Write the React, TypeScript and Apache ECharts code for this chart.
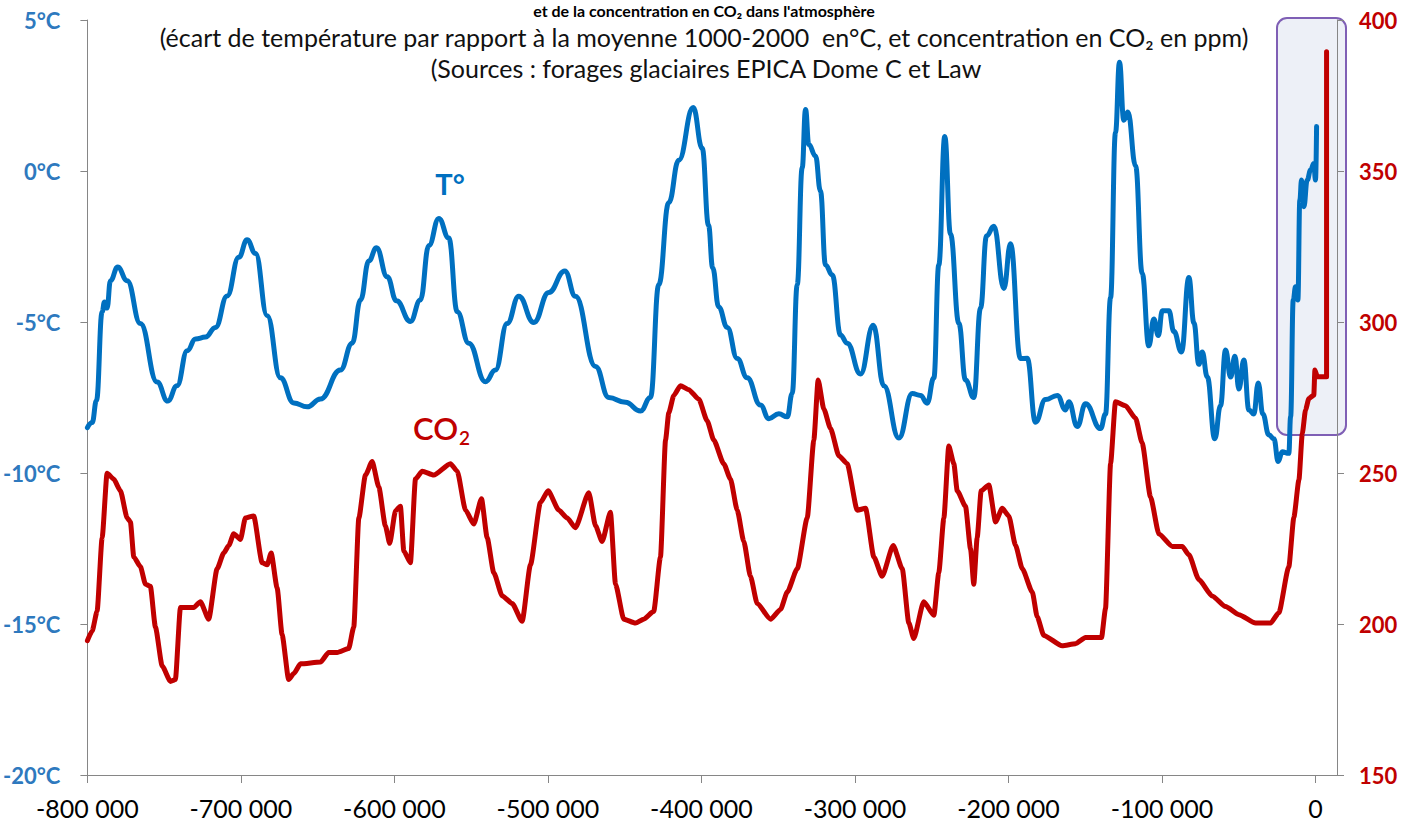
import React, { useEffect, useRef } from "react";
import * as echarts from "echarts";

// ---- Data ----
const tempYears = [
  -800000, -796900, -794100, -790400, -788900, -787200, -785000, -780300, -774100, -765500,
  -754600, -747700, -741600, -735000, -729600, -723100, -716600, -709000, -701400, -696000,
  -690500, -682900, -674300, -665600, -656900, -648200, -635200, -627500, -622100, -616700,
  -611700, -604700, -598700, -589600, -583100, -577600, -571100, -564600, -559100, -551600,
  -540700, -534200, -526600, -519000, -509200, -499500, -489000, -482100, -469000, -460400,
  -449500, -439700, -433200, -427800, -421300, -414800, -405400, -399500, -395400, -392700,
  -388800, -383200, -376700, -370200, -361600, -356100, -349600, -344100, -340900, -337600,
  -334400, -332200, -330100, -325700, -322500, -319200, -314800, -309400, -305100, -296400,
  -288100, -281200, -271400, -262700, -257300, -253000, -248600, -245400, -241500, -237800,
  -232300, -228000, -222600, -218200, -214300, -209500, -203000, -198700, -192200, -187800,
  -182400, -175900, -168200, -162800, -160700, -155200, -149800, -140000, -136800, -133500,
  -130300, -127700, -124900, -122200, -117200, -112900, -108600, -105300, -102400, -99800,
  -95500, -92300, -87300, -82500, -79200, -76000, -73800, -70500, -65600, -61900,
  -58600, -55300, -52500, -49900, -46700, -43400, -40200, -37300, -34300, -30400,
  -27100, -24300, -21700, -17400, -16200, -14500, -13000, -11500, -10200, -9100,
  -7600, -5400, -3200, -1100, 0, 700,
];
const tempValues = [
  -8.5, -8.33, -7.6, -4.66, -4.34, -4.54, -3.63, -3.18, -3.63, -5.05,
  -6.99, -7.62, -7.11, -5.95, -5.56, -5.5, -5.18, -4.14, -2.86, -2.28,
  -2.73, -4.79, -6.85, -7.68, -7.81, -7.55, -6.59, -5.7, -4.27, -2.98,
  -2.54, -3.5, -4.3, -4.98, -4.27, -2.47, -1.57, -2.22, -4.66, -5.7,
  -6.98, -6.59, -5.05, -4.15, -5.02, -4.02, -3.31, -4.15, -6.47, -7.5,
  -7.66, -7.95, -7.5, -3.76, -1.05, 0.36, 2.1, 0.75, -1.8, -3.2,
  -4.5, -5.18, -6.21, -6.85, -7.75, -8.2, -8.04, -8.14, -7.37, -3.76,
  0.1, 2.04, 0.88, 0.5, -0.66, -3.11, -3.44, -5.43, -5.7, -6.72,
  -5.11, -7.11, -8.84, -7.37, -7.43, -7.69, -6.85, -3.11, 1.14, -2.09,
  -5.05, -6.92, -7.5, -4.54, -2.15, -1.83, -3.89, -2.41, -6.21, -6.2,
  -8.32, -7.57, -7.43, -7.91, -7.64, -8.46, -7.71, -8.53, -8.05, -4.2,
  1.27, 3.6, 1.68, 1.95, 0.17, -3.39, -5.79, -4.9, -5.45, -4.63,
  -4.63, -5.31, -5.99, -3.53, -5.03, -6.4, -5.99, -6.82, -8.87, -7.77,
  -5.93, -6.82, -6.13, -7.22, -6.26, -7.91, -8.05, -7.02, -8.05, -8.74,
  -8.87, -9.62, -9.3, -9.35, -8.13, -4.27, -3.83, -4.27, -0.96, -0.3,
  -1.18, -0.3, 0.03, 0.25, -0.3, 1.47,
];

const co2Years = [
  -800000, -796900, -793700, -790400, -787200, -782900, -778500, -774100, -772000, -769800,
  -765500, -762200, -759000, -755700, -751300, -745900, -742700, -739400, -736200, -730700,
  -726400, -721000, -715500, -711200, -707900, -704700, -700300, -697100, -691700, -686200,
  -682900, -680300, -676400, -673200, -668900, -665600, -661200, -648200, -642800, -637300,
  -629800, -626500, -623200, -618900, -614500, -610200, -605900, -603100, -599300, -596100,
  -593900, -589600, -586300, -581900, -574400, -563500, -559100, -553700, -548300, -543300,
  -539600, -535300, -529800, -523300, -516800, -511400, -504900, -499900, -492900, -487500,
  -482100, -473400, -469000, -464700, -459300, -456000, -450600, -443000, -437600, -431100,
  -426700, -423400, -421300, -418000, -413700, -408300, -401700, -396300, -392000, -385500,
  -381100, -376700, -372400, -368100, -363700, -355000, -348500, -344100, -337600, -331100,
  -326800, -324000, -320300, -315900, -310500, -305100, -298500, -293100, -287700, -282300,
  -275100, -269200, -264900, -261700, -255200, -248600, -245400, -242100, -238900, -235600,
  -233400, -228000, -224700, -222600, -220400, -217800, -212800, -208400, -204100, -199800,
  -195400, -191000, -184500, -181300, -177000, -165000, -156300, -149800, -139400, -136800,
  -133500, -130300, -123800, -117200, -112900, -107500, -102000, -93300, -86800, -82500,
  -76000, -67300, -58600, -49900, -39000, -29300, -23900, -17400, -14100, -10800,
  -8600, -6500, -4300, -1100, -400, 1200, 7200, 7200,
];
const co2Values = [
  194.5, 197.7, 204.2, 228.6, 249.9, 248, 244.1, 235.1, 233.8, 222.2,
  219, 213.2, 212.5, 199, 186.1, 181, 181.6, 205.5, 205.5, 205.5,
  207.4, 201.6, 218.3, 223.5, 226, 229.9, 228, 235.1, 235.8, 220.3,
  219.6, 223.5, 211.9, 196.5, 181.6, 183.6, 186.8, 187.4, 190.6, 190.6,
  191.9, 199, 235.1, 249.3, 253.8, 245.4, 232.5, 226.7, 237.5, 239,
  224.2, 220.3, 248, 250.6, 249.3, 253.1, 250.6, 237.7, 233.1, 241.5,
  228.6, 217, 209.3, 206.8, 200.9, 219.6, 240.2, 244.1, 237.7, 235.1,
  231.9, 243.5, 232.5, 227.3, 237, 213.2, 201.6, 200.3, 201.6, 204.2,
  222.2, 260.9, 269.9, 275.7, 278.9, 277.6, 274.4, 267.3, 260.9, 253.1,
  248, 237.7, 227.3, 215.8, 206.8, 201.6, 204.8, 210.6, 218.3, 235.1,
  260.9, 280.8, 271.2, 264.7, 255.7, 253.1, 237.7, 238.3, 222.2, 215.8,
  226, 218.3, 200.3, 195.2, 207.4, 202.9, 217, 235.1, 258.9, 253.1,
  244.1, 239, 224.8, 213.2, 228.6, 244.1, 246, 233.8, 238.3, 235.8,
  226, 218.3, 210.6, 202.4, 196.2, 192.8, 193.5, 195.5, 195.5, 205.1,
  253.1, 273.6, 272.3, 268.1, 259.9, 242.1, 229.8, 225.7, 225.7, 222.9,
  214.7, 209.3, 205.8, 203.1, 200.3, 200.3, 203.7, 218.9, 235.3, 247.7,
  263.1, 270.9, 274.7, 275.8, 284.1, 281.9, 281.9, 389.5,
];

const xTicks = [-800000, -700000, -600000, -500000, -400000, -300000, -200000, -100000, 0];

const titleText = "et de la concentration en CO₂ dans l'atmosphère";
const subtitle1 = "(écart de température par rapport à la moyenne 1000-2000  en°C, et concentration en CO₂ en ppm)";
const subtitle2 = "(Sources : forages glaciaires EPICA Dome C et Law";

const BLUE = "#0070C0";
const RED = "#C00000";
const AXIS = "#868686";
const FONT = "Lato, 'Open Sans', sans-serif";

function fmtThousands(v: number): string {
  const s = Math.abs(Math.round(v))
    .toString()
    .replace(/\B(?=(\d{3})+(?!\d))/g, " ");
  return (v < 0 ? "-" : "") + s;
}

export default function App() {
  const ref = useRef<HTMLDivElement>(null);

  useEffect(() => {
    if (!ref.current) return;
    const chart = echarts.init(ref.current, undefined, { renderer: "svg" });

    const tempData = tempYears.map((x, i) => [x, tempValues[i]]);
    const co2Data = co2Years.map((x, i) => [x, co2Values[i]]);

    chart.setOption({
      animation: false,
      backgroundColor: "#ffffff",
      grid: { left: 87, right: 69, top: 20, bottom: 49, containLabel: false },
      xAxis: {
        type: "value",
        min: -800000,
        max: 14000,
        interval: 100000,
        splitLine: { show: false },
        axisLine: { show: true, onZero: false, lineStyle: { color: AXIS, width: 1 } },
        axisTick: {
          show: true,
          inside: false,
          length: 8,
          customValues: xTicks,
          lineStyle: { color: AXIS },
        },
        axisLabel: {
          customValues: xTicks,
          formatter: (v: number) => fmtThousands(v),
          color: "#000",
          fontFamily: FONT,
          fontSize: 25,
          margin: 20,
        },
      },
      yAxis: [
        {
          type: "value",
          position: "left",
          min: -20,
          max: 5,
          interval: 5,
          splitLine: { show: false },
          axisLine: { show: true, onZero: false, lineStyle: { color: AXIS, width: 1 } },
          axisTick: { show: true, inside: false, length: 7, lineStyle: { color: AXIS } },
          axisLabel: {
            formatter: "{value}°C",
            color: "#2E79BE",
            fontWeight: "bold",
            fontFamily: FONT,
            fontSize: 22,
            margin: 27,
          },
        },
        {
          type: "value",
          position: "right",
          min: 150,
          max: 400,
          interval: 50,
          splitLine: { show: false },
          axisLine: { show: true, onZero: false, lineStyle: { color: AXIS, width: 1 } },
          axisTick: { show: true, inside: false, length: 7, lineStyle: { color: AXIS } },
          axisLabel: {
            color: RED,
            fontWeight: "bold",
            fontFamily: FONT,
            fontSize: 22,
            margin: 22,
          },
        },
      ],
      graphic: [
        {
          type: "rect",
          z: -1,
          shape: { x: 1277, y: 18, width: 69, height: 417, r: 10 },
          style: { fill: "#EDF0F7", stroke: "#7F5FB5", lineWidth: 2 },
        },
        {
          type: "text",
          x: 704,
          y: 10,
          style: {
            text: titleText,
            fill: "#000",
            font: `bold 16px ${FONT}`,
            textAlign: "center",
            textVerticalAlign: "middle",
          },
        },
        {
          type: "text",
          x: 704,
          y: 37,
          style: {
            text: subtitle1,
            fill: "#111",
            font: `25px ${FONT}`,
            textAlign: "center",
            textVerticalAlign: "middle",
          },
        },
        {
          type: "text",
          x: 706,
          y: 68,
          style: {
            text: subtitle2,
            fill: "#111",
            font: `25px ${FONT}`,
            textAlign: "center",
            textVerticalAlign: "middle",
          },
        },
        {
          type: "text",
          x: 450,
          y: 183,
          style: {
            text: "T°",
            fill: BLUE,
            font: `bold 29px ${FONT}`,
            textAlign: "center",
            textVerticalAlign: "middle",
          },
        },
        {
          type: "text",
          x: 413,
          y: 428,
          style: {
            text: "{c|CO}{s|2}",
            textAlign: "left",
            textVerticalAlign: "middle",
            rich: {
              c: { fontSize: 31, fontFamily: FONT, fontWeight: 600, fill: RED },
              s: { fontSize: 19, fontFamily: FONT, fontWeight: 600, fill: RED, padding: [18, 0, 0, 1] },
            },
          },
        },
      ],
      series: [
        {
          name: "T°",
          type: "line",
          yAxisIndex: 0,
          data: tempData,
          showSymbol: false,
          smooth: 0.45,
          smoothMonotone: "x",
          lineStyle: { color: BLUE, width: 5, cap: "round", join: "round" },
          itemStyle: { color: BLUE },
          z: 3,
        },
        {
          name: "CO2",
          type: "line",
          yAxisIndex: 1,
          data: co2Data,
          showSymbol: false,
          smooth: 0.2,
          smoothMonotone: "x",
          lineStyle: { color: RED, width: 5, cap: "round", join: "round" },
          itemStyle: { color: RED },
          z: 4,
        },
      ],
    });

    return () => chart.dispose();
  }, []);

  return (
    <div
      ref={ref}
      style={{ position: "fixed", left: 0, top: 0, width: 1406, height: 824, background: "#fff" }}
    />
  );
}
